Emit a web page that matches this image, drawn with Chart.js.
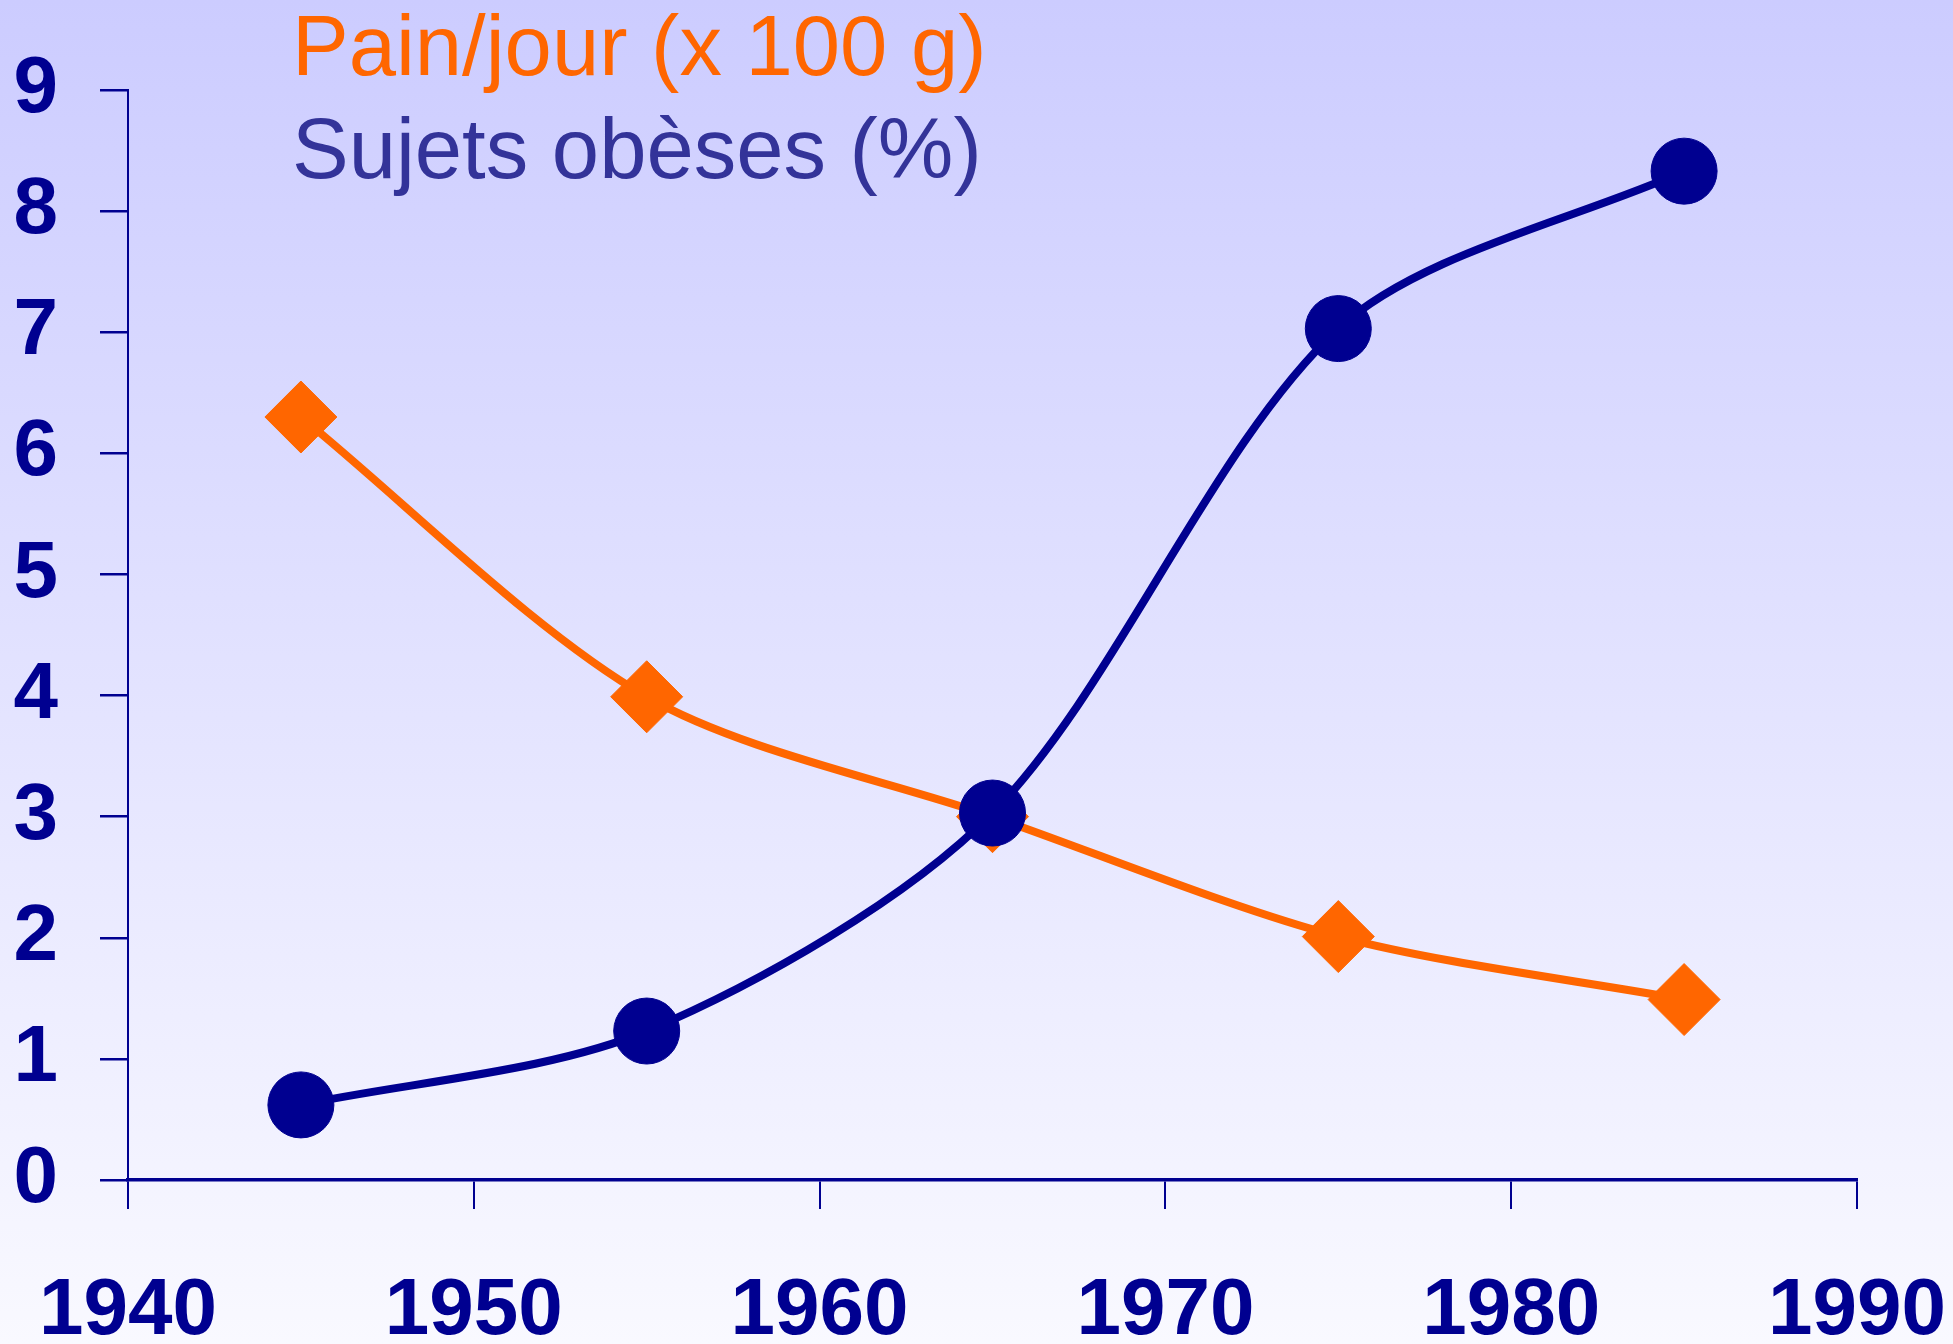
<!DOCTYPE html>
<html>
<head>
<meta charset="utf-8">
<script src="https://cdn.jsdelivr.net/npm/chart.js@4"></script>
<style>
  html, body { margin: 0; padding: 0; }
  #wrap {
    position: relative;
    width: 1953px;
    height: 1344px;
    background: linear-gradient(to bottom, #ccccff 0%, #f9f9ff 100%);
    overflow: hidden;
  }
  #chart { position: absolute; left: 0; top: 0; }
  .legend {
    position: absolute;
    left: 292px;
    font-family: "Liberation Sans", Arial, sans-serif;
    font-size: 85px;
    line-height: 1;
    white-space: nowrap;
  }
  #leg-pain { top: 3px; color: #ff6600; }
  #leg-obese { top: 106px; color: #333399; }
</style>
</head>
<body>
<div id="wrap">
  <canvas id="chart" width="1953" height="1344"></canvas>
  <div class="legend" id="leg-pain">Pain/jour (x 100 g)</div>
  <div class="legend" id="leg-obese">Sujets obèses (%)</div>
</div>
<script>
  // Years with markers
  const years = [1945, 1955, 1965, 1975, 1985];
  // Pain/jour (x 100 g)
  const pain = [6.30, 3.99, 3.00, 2.01, 1.49];
  // Sujets obèses (%)
  const obeses = [0.62, 1.23, 3.03, 7.03, 8.33];

  const xTicks = [1940, 1950, 1960, 1970, 1980, 1990];
  const yTicks = [0, 1, 2, 3, 4, 5, 6, 7, 8, 9];

  const navy = "#000090";
  const orange = "#ff6600";
  const tickFont = { family: "'Liberation Sans', Arial, sans-serif", size: 80, weight: "bold" };

  const toPoints = (vals) => years.map((y, i) => ({ x: y, y: vals[i] }));

  const ctx = document.getElementById("chart").getContext("2d");
  new Chart(ctx, {
    type: "line",
    data: {
      datasets: [
        {
          label: "Sujets obèses (%)",
          data: toPoints(obeses),
          borderColor: navy,
          backgroundColor: navy,
          borderWidth: 8,
          pointStyle: "circle",
          pointRadius: 33,
          pointBorderWidth: 1,
          tension: 0.3,
          fill: false,
        },
        {
          label: "Pain/jour (x 100 g)",
          data: toPoints(pain),
          borderColor: orange,
          backgroundColor: orange,
          borderWidth: 8,
          pointStyle: "rectRot",
          pointRadius: 36,
          pointBorderWidth: 1,
          tension: 0.3,
          fill: false,
        },
      ],
    },
    options: {
      responsive: false,
      animation: false,
      events: [],
      layout: { padding: { left: 0, top: 90, right: 96, bottom: 0 } },
      plugins: {
        legend: { display: false },
        tooltip: { enabled: false },
      },
      scales: {
        x: {
          type: "linear",
          min: xTicks[0],
          max: xTicks[xTicks.length - 1],
          afterBuildTicks: (scale) => { scale.ticks = xTicks.map((v) => ({ value: v })); },
          afterFit: (scale) => {
            scale.height = 164;
            scale.paddingLeft = 0;
            scale.paddingRight = 0;
          },
          ticks: {
            color: navy,
            font: tickFont,
            padding: 55,
            maxRotation: 0,
            callback: (v) => String(v),
          },
          grid: {
            drawOnChartArea: false,
            drawTicks: true,
            tickLength: 29,
            color: navy,
            lineWidth: 2,
          },
          border: { display: true, color: navy, width: 3.5 },
        },
        y: {
          min: yTicks[0],
          max: yTicks[yTicks.length - 1],
          afterBuildTicks: (scale) => { scale.ticks = yTicks.map((v) => ({ value: v })); },
          afterFit: (scale) => { scale.width = 128; },
          ticks: {
            color: navy,
            font: tickFont,
            padding: 42,
            callback: (v) => String(v),
          },
          grid: {
            drawOnChartArea: false,
            drawTicks: true,
            tickLength: 28,
            color: navy,
            lineWidth: 2.5,
          },
          border: { display: true, color: navy, width: 2 },
        },
      },
    },
  });
</script>
</body>
</html>
